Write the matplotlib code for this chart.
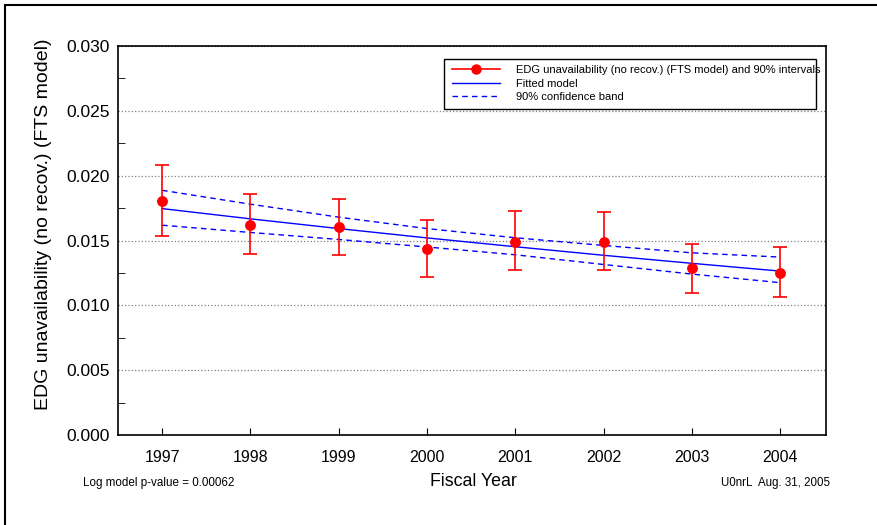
import numpy as np
import matplotlib
matplotlib.use('Agg')
import matplotlib.pyplot as plt
from matplotlib.patches import Rectangle
from matplotlib.lines import Line2D

plt.rcParams['font.family'] = ['Liberation Sans', 'DejaVu Sans']

years = [1997, 1998, 1999, 2000, 2001, 2002, 2003, 2004]
# EDG unavailability point estimates and 90% interval bounds
unavail = [0.01802, 0.01621, 0.01602, 0.01436, 0.01492, 0.01492, 0.01285, 0.01251]
upper = [0.02079, 0.01859, 0.01821, 0.01659, 0.01725, 0.01721, 0.01474, 0.01451]
lower = [0.01533, 0.01395, 0.01390, 0.01215, 0.01269, 0.01274, 0.01098, 0.01064]
# fitted log model and 90% confidence band
fitted = [0.01746, 0.01667, 0.01592, 0.01520, 0.01452, 0.01386, 0.01324, 0.01264]
band_hi = [0.01887, 0.01780, 0.01680, 0.01592, 0.01521, 0.01462, 0.01405, 0.01372]
band_lo = [0.01618, 0.01562, 0.01508, 0.01450, 0.01390, 0.01315, 0.01241, 0.01175]

W, H = 878, 525
fig = plt.figure(figsize=(W / 100, H / 100), dpi=100)
ax = fig.add_axes([0.1344, 0.1714, 0.8064, 0.741])

unavail = np.array(unavail)
yerr = [unavail - np.array(lower), np.array(upper) - unavail]
ax.errorbar(years, unavail, yerr=yerr, fmt='o', color='red', ecolor='red',
            markersize=6.8, elinewidth=1.2, capsize=4.7, capthick=1.2, zorder=4)
ax.plot(years, fitted, color='blue', lw=1, zorder=3)
ax.plot(years, band_hi, color='blue', lw=1, ls=(0, (4, 3)), zorder=3)
ax.plot(years, band_lo, color='blue', lw=1, ls=(0, (4, 3)), zorder=3)

ax.set_xlim(1996.5, 2004.52)
ax.set_ylim(0, 0.030)
ax.set_xticks(years)
ax.set_xticklabels([str(y) for y in years])
ax.set_yticks(np.arange(0, 0.0301, 0.005))
ax.set_yticklabels(['%.3f' % v for v in np.arange(0, 0.0301, 0.005)])
ax.set_yticks(np.arange(0.0025, 0.03, 0.005), minor=True)
ax.tick_params(axis='x', which='major', labelsize=11.5, direction='in', length=5, pad=11)
ax.tick_params(axis='y', which='major', labelsize=12.5, length=0, pad=6)
ax.tick_params(axis='y', which='minor', direction='in', length=5)
ax.yaxis.grid(True, ls=':', color='gray', lw=0.9)
ax.set_axisbelow(True)
for s in ax.spines.values():
    s.set_linewidth(1.2)

fig.text(44 / W, 1 - 224 / H, 'EDG unavailability (no recov.) (FTS model)',
         fontsize=14, rotation=90, ha='center', va='center')
fig.text(473 / W, 1 - 482 / H, 'Fiscal Year', fontsize=12.8, ha='center', va='center')

handles = [
    Line2D([], [], color='red', marker='o', markersize=6.5, lw=1.2),
    Line2D([], [], color='blue', lw=1),
    Line2D([], [], color='blue', lw=1, ls=(0, (4, 3))),
]
labels = ['EDG unavailability (no recov.) (FTS model) and 90% intervals',
          'Fitted model', '90% confidence band']
# legend entries without frame; the box is drawn separately (text runs past it)
leg = fig.legend(handles, labels, loc='upper left', bbox_to_anchor=(452 / W, 1 - 65 / H),
                 fontsize=8.0, frameon=False, handlelength=4.3, labelspacing=0.32,
                 borderpad=0, borderaxespad=0, handletextpad=1.45)
fig.patches.append(Rectangle((444 / W, 1 - 109 / H), 372 / W, 50 / H, transform=fig.transFigure,
                             fill=False, edgecolor='black', lw=1.0, zorder=5))

fig.text(83 / W, 1 - 483 / H, 'Log model p-value = 0.00062', fontsize=8.4, va='center')
fig.text(830 / W, 1 - 483 / H, 'U0nrL  Aug. 31, 2005', fontsize=8.3, va='center', ha='right')

fig.patches.append(Rectangle((5 / W, -0.1), 1.2, 1.1 - 5 / H, transform=fig.transFigure,
                             fill=False, edgecolor='black', lw=1.5))

fig.savefig('out.png', dpi=100)
